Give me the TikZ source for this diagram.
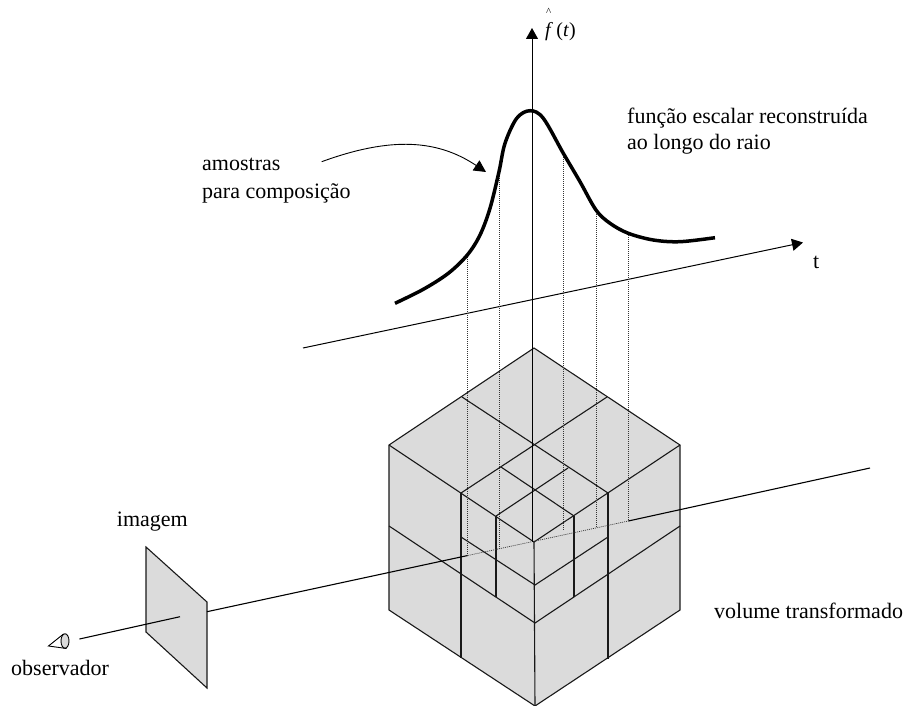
\documentclass[tikz,border=0pt]{standalone}
\usepackage{fontspec}
\setmainfont{Liberation Serif}
\usetikzlibrary{shapes.geometric, arrows.meta}

\begin{document}
\begin{tikzpicture}[
    x=1pt, y=-1pt,
    texto/.style={anchor=base west, inner sep=0pt, font=\fontsize{22}{26}\selectfont},
    face/.style={draw=none, fill=black!14},
    edge/.style={line width=1.1pt, black!90},
    axis/.style={-{Triangle[length=11pt, width=12pt]}, line width=1pt},
    sample/.style={dash pattern=on 1pt off 1pt, line width=0.7pt, black!80},
    ray/.style={line width=1.1pt}
]
    \useasboundingbox (0,0) rectangle (904,706);

    % Cube corners
    \coordinate (apex) at (534,348);
    \coordinate (tl) at (389,445);
    \coordinate (tr) at (680,445);
    \coordinate (fc) at (534,542);
    \coordinate (bl) at (389,610);
    \coordinate (br) at (680,610);
    \coordinate (bc) at (535,706);

    % Faces
    \fill[face] (apex) -- (tr) -- (br) -- (bc) -- (bl) -- (tl) -- cycle;

    % Top subdivision
    \coordinate (tlm) at (462,397);
    \coordinate (trm) at (607,397);
    \coordinate (flm) at (461,493);
    \coordinate (frm) at (608,493);
    \coordinate (il) at (501,467);
    \coordinate (ir) at (568,468);
    \coordinate (ifl) at (496,516);
    \coordinate (ifr) at (574,516);

    % Side subdivision
    \coordinate (ml) at (389,526);
    \coordinate (mc) at (535,623);
    \coordinate (mr) at (680,526);
    \coordinate (nl) at (461,537);
    \coordinate (nc) at (535,585);
    \coordinate (nr) at (608,537);
    \coordinate (vl) at (461,658);
    \coordinate (vr) at (608,659);
    \coordinate (wl) at (496,597);
    \coordinate (wr) at (574,597);

    \draw[edge] (apex) -- (tr) -- (br) -- (bc) -- (bl) -- (tl) -- cycle;
    \draw[edge] (tl) -- (fc) -- (tr);
    \draw[edge] (fc) -- (bc);
    \draw[edge] (tlm) -- (frm);
    \draw[edge] (trm) -- (flm);
    \draw[edge] (il) -- (ifr);
    \draw[edge] (ir) -- (ifl);
    \draw[edge] (flm) -- (vl);
    \draw[edge] (frm) -- (vr);
    \draw[edge] (ifl) -- (wl);
    \draw[edge] (ifr) -- (wr);
    \draw[edge] (ml) -- (mc) -- (mr);
    \draw[edge] (nl) -- (nc) -- (nr);

    % Image plane
    \coordinate (pa) at (146,547);
    \coordinate (pb) at (207,602);
    \coordinate (pc) at (207,688);
    \coordinate (pd) at (146,632);
    \draw[edge, fill=black!14] (pa) -- (pb) -- (pc) -- (pd) -- cycle;

    % Observer
    \coordinate (eyetip) at (48.5,646);
    \coordinate (eyetop) at (63.5,634);
    \coordinate (eyebot) at (66.5,648.5);
    \node[draw, fill=black!14, ellipse, line width=0.9pt, inner sep=0pt, minimum width=8pt, minimum height=14.5pt] (lens) at (65,641) {};
    \draw[line width=0.9pt] (eyetop) -- (eyetip) -- (eyebot);

    % Ray
    \coordinate (rayA) at (79.5,639);
    \coordinate (rayB) at (180,616.7);
    \coordinate (rayC) at (207,611.7);
    \coordinate (rayD) at (467.7,555.5);
    \coordinate (rayE) at (628.3,521);
    \coordinate (rayF) at (870,468);
    \draw[ray] (rayA) -- (rayB);
    \draw[ray] (rayC) -- (rayD);
    \draw[sample] (rayD) -- (rayE);
    \draw[ray] (rayE) -- (rayF);

    % Axes
    \coordinate (yorig) at (532,542);
    \coordinate (ytip) at (532,28);
    \coordinate (tstart) at (303,348);
    \coordinate (ttip) at (803,242.5);
    \draw[axis] (yorig) -- (ytip);
    \draw[axis] (tstart) -- (ttip);

    % Samples
    \foreach \name/\sx/\sy/\ey in {a/467.5/255/555.5, b/499.3/172/550, c/563.3/153/530, d/596/210/526.5, e/628.3/233/521} {
        \coordinate (s\name) at (\sx,\sy);
        \coordinate (r\name) at (\sx,\ey);
        \draw[sample] (s\name) -- (r\name);
    }

    % Reconstructed function
    \draw[line width=3.5pt, line join=round] plot[smooth, tension=0.55] coordinates {
        (395,303.3) (423.3,289.3) (448.3,273.3) (467.3,255) (480,235) (490,208.3)
        (499,171.7) (505,143.3) (516.7,118.3) (530,110.7) (543.3,118.3) (563.3,153.3)
        (580,181.7) (596,210) (610,223.3) (628.3,233.3) (653.3,240) (680,241.7) (715,237.7)};

    % Labels
    \node[texto] (amostras) at (202,170) {amostras};
    \node[texto] (composicao) at (202,198) {para composição};
    \node[texto] (funcao) at (627,123.3) {função escalar reconstruída};
    \node[texto] (raio) at (627,149.3) {ao longo do raio};
    \node[texto] (teixo) at (813,268) {t};
    \node[texto] (imagem) at (116.7,526.7) {imagem};
    \node[texto] (observador) at (11,675) {observador};
    \node[texto] (volume) at (714,618) {volume transformado};
    \node[texto, font=\fontsize{20}{20}\selectfont] (fhat) at (545,36.7)
        {\rlap{\raisebox{1.05em}{\kern0.05em\fontsize{11}{11}\selectfont\textasciicircum}}\textit{f}\,(\textit{t})};

    % Arrow to the samples
    \coordinate (setaA) at (321.7,161.7);
    \coordinate (setaB) at (486,172);
    \draw[-{Triangle[length=12pt, width=12pt]}, line width=0.9pt] (setaA) .. controls (392,136) and (438,140) .. (setaB);
\end{tikzpicture}
\end{document}
